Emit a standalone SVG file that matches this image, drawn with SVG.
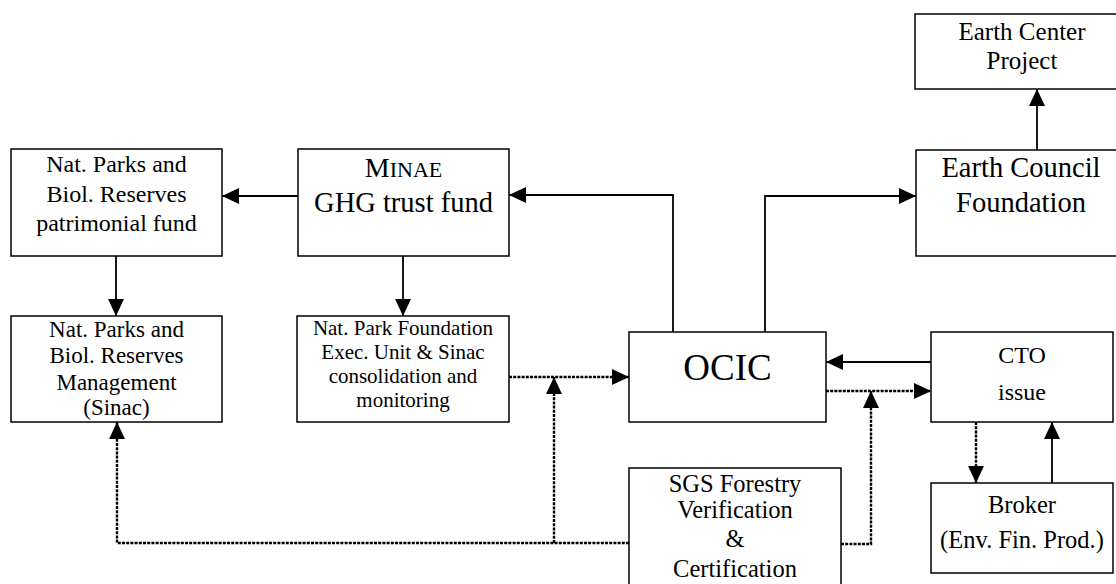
<svg xmlns="http://www.w3.org/2000/svg" width="1116" height="584" viewBox="0 0 1116 584">
<style>
rect.b{fill:#fff;stroke:#000;stroke-width:1.5}
text{font-family:"Liberation Serif","Times New Roman",serif;fill:#000;text-anchor:middle}
.s{fill:none;stroke:#000;stroke-width:1.8}
.d{fill:none;stroke:#000;stroke-width:2.4;stroke-dasharray:3 1.2}
</style>
<defs>
<marker id="ah" markerUnits="userSpaceOnUse" markerWidth="17" markerHeight="16" refX="17" refY="8" orient="auto">
<path d="M0,0 L17,8 L0,16 z" fill="#000"/>
</marker>
</defs>
<rect width="1116" height="584" fill="#fff"/>
<g id="connectors">
<path class="s" d="M298,196 H222" marker-end="url(#ah)"/>
<path class="s" d="M116,256 V316" marker-end="url(#ah)"/>
<path class="s" d="M403,256 V316" marker-end="url(#ah)"/>
<path class="s" d="M673,332 V195 H509" marker-end="url(#ah)"/>
<path class="s" d="M765,332 V196 H916" marker-end="url(#ah)"/>
<path class="s" d="M1037,150 V89" marker-end="url(#ah)"/>
<path class="s" d="M931,362 H826" marker-end="url(#ah)"/>
<path class="s" d="M1052,483 V422" marker-end="url(#ah)"/>
<path class="d" d="M976,422 V483" marker-end="url(#ah)"/>
<path class="d" d="M509,377 H629" marker-end="url(#ah)"/>
<path class="d" d="M826,391 H931" marker-end="url(#ah)"/>
<path class="d" d="M629,543 H117 V422" marker-end="url(#ah)"/>
<path class="d" d="M554,543 V377" marker-end="url(#ah)"/>
<path class="d" d="M841,544 H871 V391" marker-end="url(#ah)"/>
</g>
<g id="patrimonial">
<rect class="b" x="11" y="149" width="211" height="107"/>
<text font-size="24" x="116.5"><tspan x="116.5" y="172">Nat. Parks and</tspan><tspan x="116.5" y="202">Biol. Reserves</tspan><tspan x="116.5" y="231">patrimonial fund</tspan></text>
</g>
<g id="minae">
<rect class="b" x="298" y="149" width="211" height="107"/>
<text x="403.5" y="177" font-size="28">M<tspan font-size="22">INAE</tspan></text>
<text x="403.5" y="212" font-size="28.5">GHG trust fund</text>
</g>
<g id="earthcenter">
<rect class="b" x="915" y="14" width="220" height="75"/>
<text font-size="25"><tspan x="1022" y="40">Earth Center</tspan><tspan x="1022" y="69">Project</tspan></text>
</g>
<g id="earthcouncil">
<rect class="b" x="916" y="150" width="220" height="106"/>
<text font-size="28.5"><tspan x="1021" y="177">Earth Council</tspan><tspan x="1021" y="212">Foundation</tspan></text>
</g>
<g id="management">
<rect class="b" x="11" y="316" width="211" height="106"/>
<text font-size="23"><tspan x="116.5" y="337">Nat. Parks and</tspan><tspan x="116.5" y="363">Biol. Reserves</tspan><tspan x="116.5" y="390">Management</tspan><tspan x="116.5" y="415">(Sinac)</tspan></text>
</g>
<g id="foundation">
<rect class="b" x="297" y="316" width="212" height="106"/>
<text font-size="21"><tspan x="403" y="335">Nat. Park Foundation</tspan><tspan x="403" y="359">Exec. Unit &amp; Sinac</tspan><tspan x="403" y="383">consolidation and</tspan><tspan x="403" y="407">monitoring</tspan></text>
</g>
<g id="ocic">
<rect class="b" x="629" y="332" width="197" height="90"/>
<text x="727.5" y="380" font-size="37">OCIC</text>
</g>
<g id="cto">
<rect class="b" x="931" y="332" width="182" height="90"/>
<text font-size="24"><tspan x="1022" y="363">CTO</tspan><tspan x="1022" y="400">issue</tspan></text>
</g>
<g id="broker">
<rect class="b" x="931" y="483" width="182" height="90"/>
<text font-size="24.5"><tspan x="1022" y="513">Broker</tspan><tspan x="1022" y="548">(Env. Fin. Prod.)</tspan></text>
</g>
<g id="sgs">
<rect class="b" x="629" y="468" width="212" height="130"/>
<text font-size="24.5"><tspan x="735" y="492">SGS Forestry</tspan><tspan x="735" y="518">Verification</tspan><tspan x="735" y="547">&amp;</tspan><tspan x="735" y="577">Certification</tspan></text>
</g>
</svg>
